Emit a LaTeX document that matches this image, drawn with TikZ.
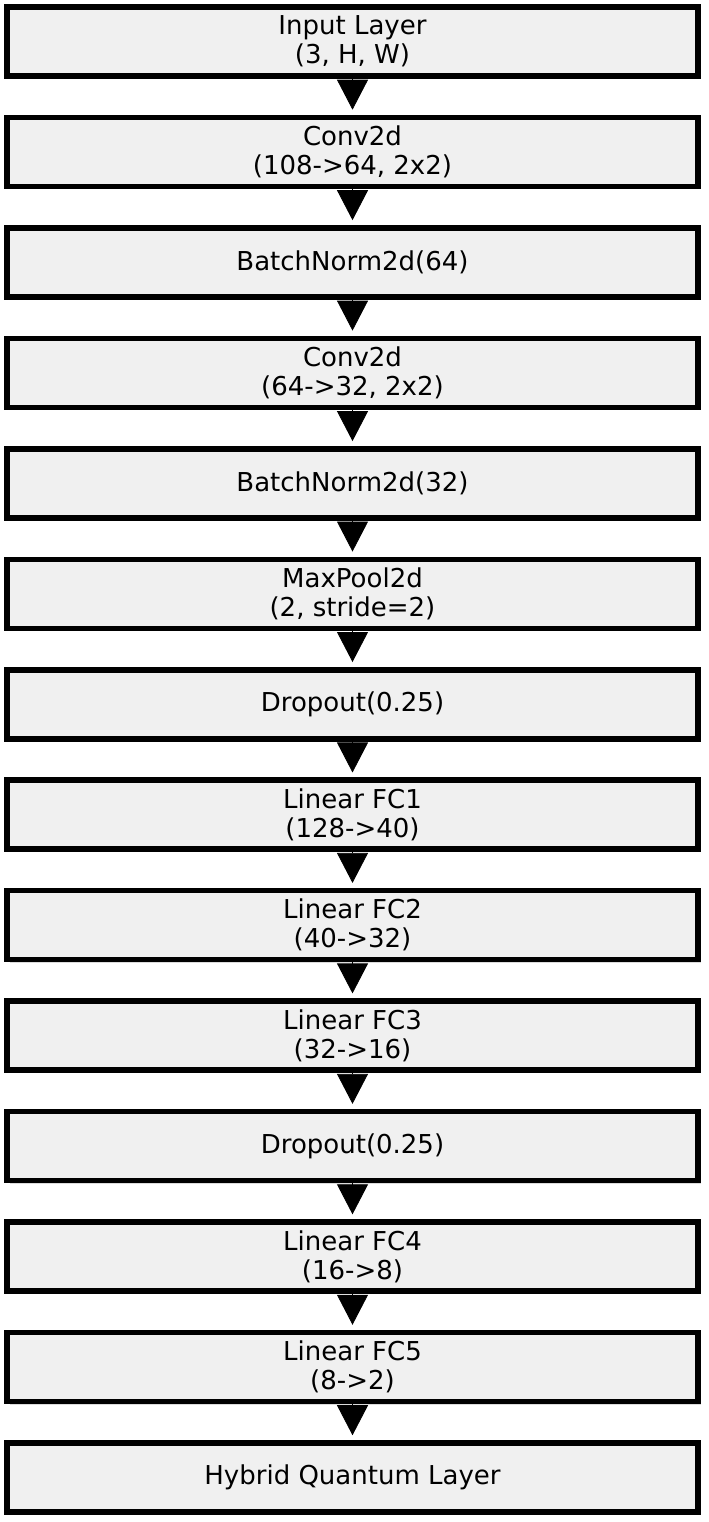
\documentclass[tikz,border=0pt]{standalone}
\usepackage{fontspec}
\setmainfont{DejaVu Sans}
\usepackage{xcolor}
\usepackage{tikz}
\usetikzlibrary{arrows.meta,shadows}
\definecolor{layerfill}{HTML}{F0F0F0}
\definecolor{layershade}{HTML}{B8B8B8}

\tikzset{
  layerbox/.style={draw=black,line width=2.75pt,fill=layerfill,
    minimum width=345.5pt,minimum height=34.5pt,align=center,inner sep=0pt,
    drop shadow={shadow xshift=1.5pt,shadow yshift=-1.5pt,fill=layershade,opacity=0.5}},
  flowarrow/.style={line width=0.4pt,shorten >=2.5pt,
    -{Triangle[length=15pt,width=15.5pt]}}
}

\begin{document}
\begin{tikzpicture}[x=0.5pt,y=0.5pt,font=\fontsize{13}{14.5}\selectfont]
\useasboundingbox (0,0) rectangle (708,-1522);
\foreach \i/\lab in {
  0/{Input Layer\\(3, H, W)},
  1/{Conv2d\\(108->64, 2x2)},
  2/{BatchNorm2d(64)},
  3/{Conv2d\\(64->32, 2x2)},
  4/{BatchNorm2d(32)},
  5/{MaxPool2d\\(2, stride=2)},
  6/{Dropout(0.25)},
  7/{Linear FC1\\(128->40)},
  8/{Linear FC2\\(40->32)},
  9/{Linear FC3\\(32->16)},
  10/{Dropout(0.25)},
  11/{Linear FC4\\(16->8)},
  12/{Linear FC5\\(8->2)},
  13/{Hybrid Quantum Layer}} {
  \node[layerbox] (layer\i) at (352.5,{-41.5-110.46*\i}) {\lab};
}
\foreach \i [evaluate=\i as \j using int(\i+1)] in {0,...,12} {
  \draw[flowarrow] (layer\i.south) -- (layer\j.north);
}
\end{tikzpicture}
\end{document}
